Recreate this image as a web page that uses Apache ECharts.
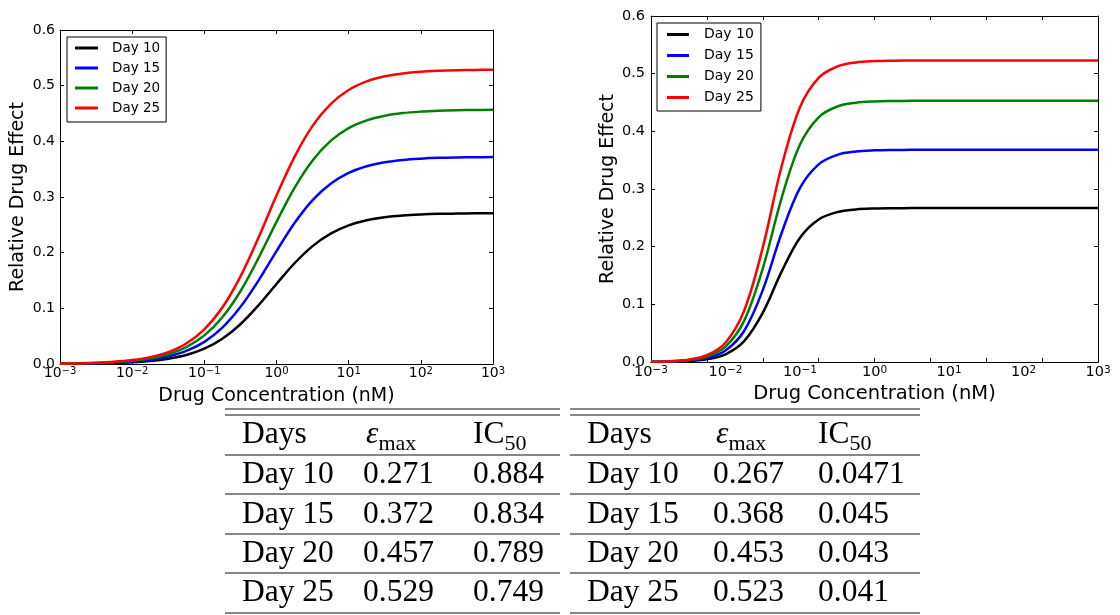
<!DOCTYPE html>
<html><head><meta charset="utf-8">
<script src="https://cdn.jsdelivr.net/npm/echarts@6/dist/echarts.min.js"></script>
<style>html,body{margin:0;padding:0;background:#fff}#c{width:1120px;height:615px}</style>
</head><body><div id="c"></div>
<script>
// ---------- DATA ----------
// x positions: log10 of drug concentration (nM)
const logConc = [-3,-2.75,-2.5,-2.25,-2,-1.75,-1.5,-1.25,-1,-0.75,-0.5,-0.25,0,0.25,0.5,0.75,1,1.25,1.5,1.75,2,2.25,2.5,2.75,3];
const seriesNames = ['Day 10','Day 15','Day 20','Day 25'];
const seriesColors = ['#000000','#0000ff','#008000','#ff0000'];

// left panel: relative drug effect
const leftDay10 = [0.0003,0.0005,0.0010,0.0017,0.0030,0.0053,0.0094,0.0162,0.0275,0.0454,0.0714,0.1054,0.1438,0.1810,0.2118,0.2342,0.2490,0.2582,0.2636,0.2668,0.2686,0.2697,0.2702,0.2706,0.2708];
const leftDay15 = [0.0004,0.0008,0.0014,0.0025,0.0044,0.0078,0.0136,0.0235,0.0398,0.0654,0.1023,0.1498,0.2028,0.2532,0.2944,0.3240,0.3434,0.3553,0.3624,0.3666,0.3689,0.3703,0.3710,0.3714,0.3717];
const leftDay20 = [0.0006,0.0010,0.0018,0.0032,0.0057,0.0101,0.0176,0.0304,0.0514,0.0840,0.1307,0.1902,0.2554,0.3165,0.3657,0.4008,0.4236,0.4376,0.4459,0.4507,0.4534,0.4550,0.4559,0.4564,0.4566];
const leftDay25 = [0.0007,0.0013,0.0022,0.0039,0.0070,0.0123,0.0214,0.0369,0.0623,0.1015,0.1570,0.2268,0.3025,0.3722,0.4277,0.4668,0.4921,0.5076,0.5168,0.5220,0.5251,0.5268,0.5278,0.5283,0.5286];

// right panel
const rightDay10 = [0.0002,0.0005,0.0016,0.0046,0.0134,0.0363,0.0853,0.1558,0.2155,0.2472,0.2600,0.2646,0.2662,0.2667,0.2669,0.2670,0.2670,0.2670,0.2670,0.2670,0.2670,0.2670,0.2670,0.2670,0.2670];
const rightDay15 = [0.0003,0.0008,0.0024,0.0069,0.0200,0.0538,0.1246,0.2224,0.3018,0.3428,0.3592,0.3650,0.3670,0.3677,0.3679,0.3680,0.3680,0.3680,0.3680,0.3680,0.3680,0.3680,0.3680,0.3680,0.3680];
const rightDay20 = [0.0004,0.0011,0.0032,0.0093,0.0267,0.0713,0.1621,0.2830,0.3771,0.4244,0.4430,0.4496,0.4519,0.4526,0.4529,0.4530,0.4530,0.4530,0.4530,0.4530,0.4530,0.4530,0.4530,0.4530,0.4530];
const rightDay25 = [0.0005,0.0013,0.0040,0.0117,0.0335,0.0888,0.1983,0.3377,0.4418,0.4927,0.5124,0.5194,0.5218,0.5226,0.5228,0.5230,0.5230,0.5230,0.5230,0.5230,0.5230,0.5230,0.5230,0.5230,0.5230];

// tables
const tableHeaders = ['Days','emax','IC50'];
const tableDays = ['Day 10','Day 15','Day 20','Day 25'];
const leftEmax = ['0.271','0.372','0.457','0.529'];
const leftIC50 = ['0.884','0.834','0.789','0.749'];
const rightEmax = ['0.267','0.368','0.453','0.523'];
const rightIC50 = ['0.0471','0.045','0.043','0.041'];

// ---------- CHART ----------
const FONT = 'DejaVu Sans';
const SERIF = 'Liberation Serif';
const chart = echarts.init(document.getElementById('c'), null, {renderer: 'canvas'});

function expLabel(fs, ss, margin) {
  return {
    show: true, margin: margin,
    formatter: function (v) {
      const e = Math.round(v);
      return '{b|10}{s|' + (e < 0 ? '\u2212' + (-e) : String(e)) + '}';
    },
    rich: {
      b: {fontFamily: FONT, fontSize: fs, color: '#000', lineHeight: fs, padding: [6, 0, 0, 0], verticalAlign: 'bottom'},
      s: {fontFamily: FONT, fontSize: ss, color: '#000', lineHeight: ss, verticalAlign: 'top'}
    }
  };
}
const axLine = {show: true, onZero: false, lineStyle: {color: '#000', width: 1}};
const tickIn = {show: true, inside: true, length: 4, lineStyle: {color: '#000', width: 1}};
const noSplit = {show: false};

function yAxes(grid, fs, gap, margin) {
  return [
    {gridIndex: grid, type: 'value', position: 'left', min: 0, max: 0.6, interval: 0.1,
     axisLine: axLine, axisTick: tickIn, splitLine: noSplit,
     axisLabel: {margin: margin, fontSize: fs, fontFamily: FONT, color: '#000', formatter: v => v.toFixed(1)},
     name: 'Relative Drug Effect', nameLocation: 'middle', nameGap: gap,
     nameTextStyle: {fontSize: 19, fontFamily: FONT, color: '#000'}},
    {gridIndex: grid, type: 'value', position: 'right', min: 0, max: 0.6, interval: 0.1,
     axisLine: axLine, axisTick: tickIn, splitLine: noSplit, axisLabel: {show: false}}
  ];
}

const xAxis = [
  // left panel
  {gridIndex: 0, type: 'value', position: 'bottom', min: -3, max: 3, interval: 1,
   axisLine: axLine, axisTick: tickIn, splitLine: noSplit, axisLabel: expLabel(14, 10, 2),
   name: 'Drug Concentration (nM)', nameLocation: 'middle', nameGap: 23,
   nameTextStyle: {fontSize: 19, fontFamily: FONT, color: '#000'}},
  {gridIndex: 0, type: 'value', position: 'top', min: -3, max: 3, interval: 1,
   axisLine: axLine, axisTick: tickIn, splitLine: noSplit, axisLabel: {show: false}},
  // right panel: labels at decades
  {gridIndex: 1, type: 'value', position: 'bottom', min: -3, max: 3, interval: 1,
   axisLine: axLine, axisTick: {show: false}, splitLine: noSplit, axisLabel: expLabel(14.5, 10.5, 3),
   name: 'Drug Concentration (nM)', nameLocation: 'middle', nameGap: 22,
   nameTextStyle: {fontSize: 19.5, fontFamily: FONT, color: '#000'}},
  // right panel: tick marks every 0.75
  {gridIndex: 1, type: 'value', position: 'bottom', min: -3, max: 3, interval: 0.75,
   axisLine: axLine, axisTick: tickIn, splitLine: noSplit, axisLabel: {show: false}},
  {gridIndex: 1, type: 'value', position: 'top', min: -3, max: 3, interval: 0.75,
   axisLine: axLine, axisTick: tickIn, splitLine: noSplit, axisLabel: {show: false}}
];
const yAxis = yAxes(0, 14, 32, 5).concat(yAxes(1, 14.5, 33, 6));

function mkSeries(sets, xi, yi) {
  return sets.map((vals, i) => ({
    name: seriesNames[i], type: 'line', xAxisIndex: xi, yAxisIndex: yi,
    data: logConc.map((L, j) => [L, vals[j]]),
    showSymbol: false, symbol: 'none', smooth: 0.35,
    lineStyle: {color: seriesColors[i], width: 2.5}, itemStyle: {color: seriesColors[i]},
    emphasis: {disabled: true}
  }));
}
const series = mkSeries([leftDay10, leftDay15, leftDay20, leftDay25], 0, 0)
  .concat(mkSeries([rightDay10, rightDay15, rightDay20, rightDay25], 2, 2));

function mkLegend(left, top, iw, fs, lh, pad, textPad) {
  return {
    show: true, orient: 'vertical', left: left, top: top, data: seriesNames,
    icon: 'rect', itemWidth: iw, itemHeight: 3, itemGap: 6, padding: pad,
    borderColor: '#000', borderWidth: 1, borderRadius: 0, backgroundColor: '#fff',
    selectedMode: false,
    textStyle: {fontSize: fs, fontFamily: FONT, color: '#000', lineHeight: lh, padding: [0, 0, 0, textPad]}
  };
}

// ---------- TABLES (graphic) ----------
const graphics = [];
function addTable(x0, x1, colX, emaxArr, icArr) {
  const lineYs = [409, 415, 455, 494, 534, 573, 613];
  lineYs.forEach(y => graphics.push({type: 'line', shape: {x1: x0, y1: y, x2: x1, y2: y},
    style: {stroke: '#111', lineWidth: 1.2}, silent: true}));
  const fs = 31.5;
  const headerY = 435;
  graphics.push({type: 'text', x: colX[0], y: headerY, silent: true,
    style: {text: tableHeaders[0], fontFamily: SERIF, fontSize: fs, fill: '#000', align: 'left', verticalAlign: 'middle'}});
  graphics.push({type: 'text', x: colX[1] + 3, y: headerY + 2, silent: true,
    style: {text: '{e|\u03b5}{m|max}', align: 'left', verticalAlign: 'middle', fill: '#000',
      rich: {e: {fontFamily: SERIF, fontStyle: 'italic', fontSize: fs, lineHeight: 36, verticalAlign: 'top', fill: '#000'},
             m: {fontFamily: SERIF, fontSize: 22, lineHeight: 22, verticalAlign: 'bottom', fill: '#000'}}}});
  graphics.push({type: 'text', x: colX[2], y: headerY + 2, silent: true,
    style: {text: '{e|IC}{m|50}', align: 'left', verticalAlign: 'middle', fill: '#000',
      rich: {e: {fontFamily: SERIF, fontSize: fs, lineHeight: 36, verticalAlign: 'top', fill: '#000'},
             m: {fontFamily: SERIF, fontSize: 22, lineHeight: 22, verticalAlign: 'bottom', fill: '#000'}}}});
  const rowYs = [475, 515, 554, 593];
  tableDays.forEach((d, i) => {
    [d, emaxArr[i], icArr[i]].forEach((t, c) => {
      graphics.push({type: 'text', x: colX[c], y: rowYs[i], silent: true,
        style: {text: t, fontFamily: SERIF, fontSize: fs, fill: '#000', align: 'left', verticalAlign: 'middle'}});
    });
  });
}
addTable(225, 560, [242, 363, 473], leftEmax, leftIC50);
addTable(570, 920, [587, 713, 818], rightEmax, rightIC50);

chart.setOption({
  animation: false,
  backgroundColor: '#fff',
  grid: [
    {left: 60, top: 30, width: 433, height: 334, containLabel: false},
    {left: 651, top: 16, width: 447, height: 346, containLabel: false}
  ],
  legend: [
    mkLegend(67, 37, 23, 13.5, 14, [4, 6, 7, 8], 9),
    mkLegend(657, 23, 22, 14, 15, [4, 7, 6, 10], 10)
  ],
  xAxis: xAxis,
  yAxis: yAxis,
  series: series,
  graphic: graphics
});
</script>
</body></html>
